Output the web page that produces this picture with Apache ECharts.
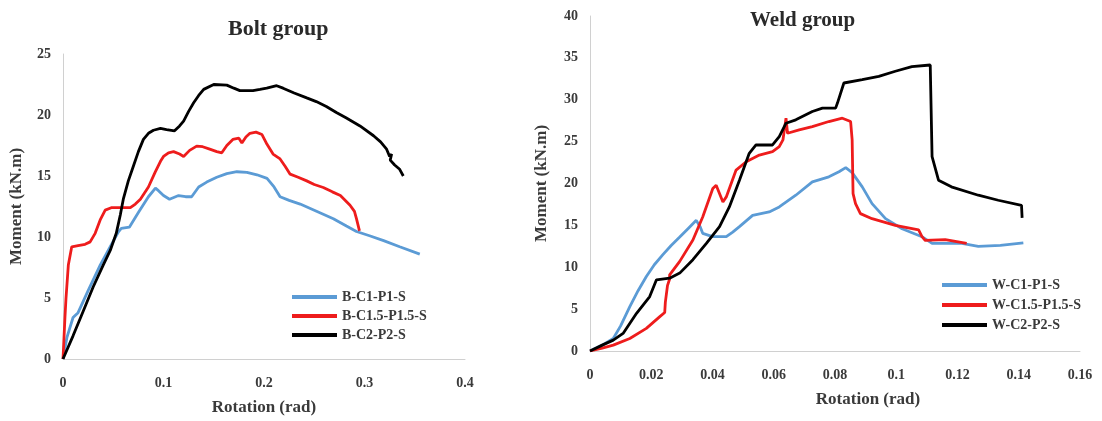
<!DOCTYPE html>
<html><head><meta charset="utf-8">
<script src="https://cdn.jsdelivr.net/npm/echarts@6/dist/echarts.min.js"></script>
<style>html,body{margin:0;padding:0;background:#fff}#c{width:1102px;height:421px}</style>
</head><body><div id="c"></div>
<script>
const boltNames = ['B-C1-P1-S','B-C1.5-P1.5-S','B-C2-P2-S'];
const weldNames = ['W-C1-P1-S','W-C1.5-P1.5-S','W-C2-P2-S'];
const boltXTicks = [0,0.1,0.2,0.3,0.4];
const weldXTicks = [0,0.02,0.04,0.06,0.08,0.1,0.12,0.14,0.16];

const boltC1 = [[0,0],[0.004,1.8],[0.010,3.4],[0.015,3.8],[0.025,5.6],[0.037,7.7],[0.047,9.2],[0.055,10.4],[0.058,10.7],[0.066,10.8],[0.075,12.0],[0.085,13.3],[0.092,14.0],[0.095,13.8],[0.100,13.4],[0.106,13.1],[0.115,13.4],[0.122,13.3],[0.128,13.3],[0.135,14.1],[0.143,14.5],[0.153,14.9],[0.163,15.2],[0.173,15.35],[0.183,15.3],[0.193,15.1],[0.203,14.8],[0.210,14.1],[0.216,13.3],[0.225,13.0],[0.236,12.7],[0.250,12.2],[0.269,11.5],[0.282,10.9],[0.292,10.45],[0.305,10.1],[0.319,9.7],[0.335,9.2],[0.355,8.6]];
const boltC15 = [[0,0],[0.002,3.5],[0.003,5.0],[0.0053,7.7],[0.0087,9.2],[0.015,9.3],[0.022,9.4],[0.027,9.6],[0.032,10.3],[0.037,11.4],[0.042,12.2],[0.048,12.4],[0.058,12.4],[0.067,12.4],[0.072,12.7],[0.077,13.1],[0.085,14.1],[0.0916,15.3],[0.097,16.2],[0.1,16.6],[0.105,16.9],[0.11,17.0],[0.116,16.8],[0.12,16.6],[0.126,17.1],[0.133,17.45],[0.139,17.4],[0.146,17.2],[0.153,17.0],[0.158,16.9],[0.163,17.5],[0.169,18.0],[0.175,18.1],[0.178,17.7],[0.182,18.2],[0.186,18.5],[0.192,18.6],[0.198,18.4],[0.203,17.6],[0.209,16.8],[0.216,16.4],[0.221,15.8],[0.226,15.15],[0.234,14.9],[0.2425,14.6],[0.25,14.3],[0.259,14.06],[0.268,13.7],[0.276,13.4],[0.2856,12.6],[0.29,12.1],[0.292,11.5],[0.295,10.5]];
const boltC2 = [[0,0],[0.01,1.9],[0.02,3.9],[0.03,5.9],[0.04,7.7],[0.047,8.9],[0.053,10.3],[0.057,11.8],[0.06,13.1],[0.065,14.6],[0.07,15.8],[0.075,17.0],[0.08,18.0],[0.085,18.5],[0.09,18.75],[0.097,18.9],[0.103,18.8],[0.111,18.7],[0.116,19.1],[0.12,19.5],[0.125,20.3],[0.13,21.0],[0.135,21.6],[0.14,22.1],[0.15,22.5],[0.163,22.45],[0.17,22.2],[0.176,22.0],[0.189,22.0],[0.196,22.1],[0.2027,22.2],[0.2126,22.4],[0.219,22.2],[0.23,21.8],[0.2425,21.4],[0.252,21.1],[0.262,20.7],[0.272,20.2],[0.282,19.75],[0.2955,19.1],[0.309,18.3],[0.316,17.8],[0.322,17.2],[0.325,16.6],[0.327,16.8],[0.3256,16.3],[0.33,15.9],[0.335,15.55],[0.3386,15.0]];

const weldC1 = [[0,0],[0.004,0.7],[0.0076,1.5],[0.01,3.0],[0.013,5.3],[0.0157,7.2],[0.0184,8.9],[0.021,10.3],[0.0238,11.5],[0.0265,12.6],[0.0293,13.6],[0.032,14.6],[0.0347,15.6],[0.0352,15.8],[0.036,14.8],[0.0368,14.05],[0.04,13.65],[0.0445,13.65],[0.0466,14.2],[0.0488,14.85],[0.0531,16.2],[0.0585,16.6],[0.0618,17.2],[0.0672,18.6],[0.0726,20.2],[0.078,20.8],[0.0813,21.4],[0.0835,21.9],[0.0856,21.3],[0.0889,19.6],[0.0921,17.6],[0.0965,15.8],[0.1019,14.6],[0.1084,13.65],[0.1117,12.85],[0.1214,12.85],[0.1268,12.5],[0.134,12.6],[0.1415,12.9]];
const weldC15 = [[0,0],[0.004,0.35],[0.0076,0.7],[0.013,1.5],[0.0184,2.7],[0.0228,4.1],[0.0244,4.6],[0.0246,5.8],[0.025,6.0],[0.0253,7.8],[0.026,8.6],[0.026,9.1],[0.0293,10.7],[0.0336,13.25],[0.0368,16.0],[0.0401,19.4],[0.0412,19.8],[0.0434,17.8],[0.0445,18.4],[0.0477,21.6],[0.051,22.6],[0.0553,23.4],[0.0596,23.8],[0.0618,24.4],[0.063,25.2],[0.064,27.8],[0.0645,26.0],[0.0683,26.4],[0.0726,26.8],[0.078,27.4],[0.0824,27.8],[0.0851,27.4],[0.0856,25.2],[0.0859,18.8],[0.0867,17.6],[0.0883,16.4],[0.0921,15.8],[0.0997,15.0],[0.1073,14.45],[0.1084,13.65],[0.1095,13.2],[0.116,13.3],[0.123,12.85]];
const weldC2 = [[0,0],[0.004,0.7],[0.0076,1.3],[0.0108,2.1],[0.0152,4.5],[0.0195,6.5],[0.0217,8.5],[0.026,8.7],[0.0293,9.3],[0.0336,10.9],[0.038,12.85],[0.0423,14.85],[0.0455,17.2],[0.0488,20.4],[0.052,23.6],[0.0542,24.6],[0.0596,24.6],[0.0618,25.6],[0.064,27.2],[0.0672,27.6],[0.0726,28.6],[0.0759,29.0],[0.0802,29.0],[0.0808,29.6],[0.0829,32.0],[0.0889,32.4],[0.0943,32.8],[0.0997,33.4],[0.1051,33.95],[0.1111,34.15],[0.1117,23.2],[0.1138,20.4],[0.118,19.6],[0.1268,18.6],[0.1333,18.0],[0.1409,17.4],[0.1411,15.9]];

const colors = ['#5b9bd5','#ee1c1c','#000000'];
const FONT = '"Liberation Serif","Times New Roman",serif';
const TXT = '#3a3a3a';

const chart = echarts.init(document.getElementById('c'));
function xAx(idx, max, interval, ticks, nameShift){
  return {type:'value', gridIndex: idx, min: 0, max: max, interval: interval,
    axisLine:{show:true, lineStyle:{color:'#d0d0d0', width:1}}, axisTick:{show:false}, splitLine:{show:false},
    axisLabel:{margin:17, fontFamily:FONT, fontWeight:'bold', fontSize:14, color:TXT,
      formatter: v => { const t = ticks.find(k => Math.abs(k - v) < 1e-9); return String(t !== undefined ? t : +v.toFixed(2)); }},
    name:'Rotation (rad)', nameLocation:'middle', nameGap:40,
    nameTextStyle:{fontFamily:FONT, fontWeight:'bold', fontSize:17, color:TXT, padding:[0,0,0,nameShift]}};
}
function yAx(idx, max, nameGap){
  return {type:'value', gridIndex: idx, min:0, max:max, interval:5,
    axisLine:{show:true, lineStyle:{color:'#d0d0d0', width:1}}, axisTick:{show:false}, splitLine:{show:false},
    axisLabel:{margin:12, fontFamily:FONT, fontWeight:'bold', fontSize:14, color:TXT},
    name:'Moment (kN.m)', nameLocation:'middle', nameGap:nameGap,
    nameTextStyle:{fontFamily:FONT, fontWeight:'bold', fontSize:17, color:TXT}};
}
function ser(name, data, c, xi){
  return {name:name, type:'line', data:data, xAxisIndex:xi, yAxisIndex:xi, showSymbol:false, symbol:'none',
    lineStyle:{width:2.8, color:c}, itemStyle:{color:c}, animation:false};
}
const legendText = {fontFamily:FONT, fontWeight:'bold', fontSize:14, color:TXT};
chart.setOption({
  animation:false,
  grid:[{left:63, top:54, width:402, height:307}, {left:590, top:16, width:490, height:335}],
  xAxis:[xAx(0,0.4,0.1,boltXTicks,0), xAx(1,0.16,0.02,weldXTicks,66)],
  yAxis:[yAx(0,25,38), yAx(1,40,40)],
  legend:[
    {data:boltNames, orient:'vertical', left:287, top:285, itemWidth:45, itemHeight:4, itemGap:5, icon:'rect', textStyle:legendText, selectedMode:false},
    {data:weldNames, orient:'vertical', left:937, top:273, itemWidth:45, itemHeight:4, itemGap:6, icon:'rect', textStyle:legendText, selectedMode:false}
  ],
  graphic:[
    {type:'text', left:228, top:18, style:{text:'Bolt group', font:'bold 22px '+FONT, fill:'#2a2a2a'}},
    {type:'text', left:750, top:10, style:{text:'Weld group', font:'bold 21px '+FONT, fill:'#2a2a2a'}}
  ],
  series:[
    ser(boltNames[0], boltC1, colors[0], 0),
    ser(boltNames[1], boltC15, colors[1], 0),
    ser(boltNames[2], boltC2, colors[2], 0),
    ser(weldNames[0], weldC1, colors[0], 1),
    ser(weldNames[1], weldC15, colors[1], 1),
    ser(weldNames[2], weldC2, colors[2], 1)
  ]
});
</script></body></html>
